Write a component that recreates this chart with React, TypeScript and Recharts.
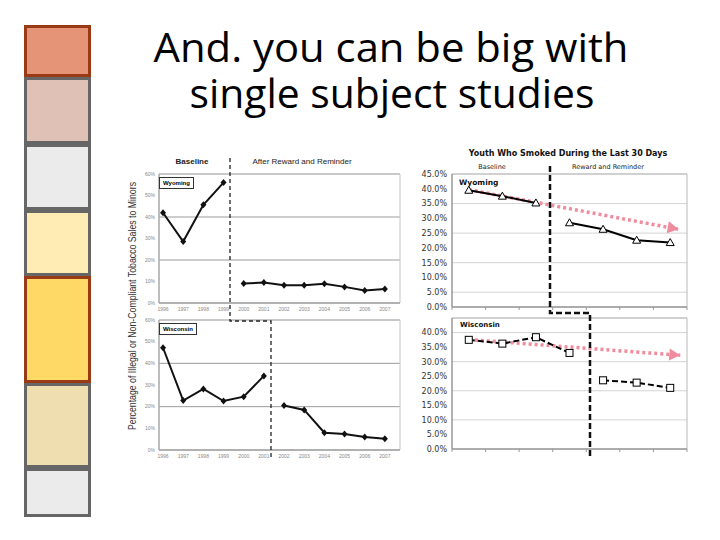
import { LineChart, Line, XAxis, YAxis, CartesianGrid, ReferenceArea } from 'recharts';

// left scan: % of illegal sales, by year
const saleYears = [1996, 1997, 1998, 1999, 2000, 2001, 2002, 2003, 2004, 2005, 2006, 2007];
const wyomingSales = [42, 28.6, 45.7, 56, 9.1, 9.5, 8.3, 8.2, 8.9, 7.5, 5.8, 6.5];
const wisconsinSales = [47.2, 22.8, 28.2, 22.6, 24.6, 34.2, 20.5, 18.5, 8, 7.4, 6, 5.2];
const wyomingSalesBaseline = 4;
const wisconsinSalesBaseline = 6;
const salesTicks = [0, 10, 20, 30, 40, 50, 60];

// right chart: youth who smoked in last 30 days
const surveyRounds = [1, 2, 3, 4, 5, 6, 7];
const wyomingSmoked = [39.5, 37.5, 35.2, 28.5, 26.3, 22.6, 21.8];
const wisconsinSmoked = [37.5, 36.2, 38.4, 33, 23.6, 22.8, 21];
const wyomingSmokedBaseline = 3;
const wisconsinSmokedBaseline = 4;
const wyomingTrend = [{ x: 1, y: 39.7 }, { x: 7.25, y: 26.3 }];
const wisconsinTrend = [{ x: 1, y: 37.6 }, { x: 7.3, y: 32.2 }];
const wyomingSmokedTicks = [0, 5, 10, 15, 20, 25, 30, 35, 40, 45];
const wisconsinSmokedTicks = [0, 5, 10, 15, 20, 25, 30, 35, 40];
const roundEdges = [0.5, 1.5, 2.5, 3.5, 4.5, 5.5, 6.5, 7.5];

const sideBoxes = [
  { y0: 25, y1: 77, fill: '#e59477', edge: '#9a3a14' },
  { y0: 77, y1: 144, fill: '#dfc1b6', edge: '#666' },
  { y0: 144, y1: 210, fill: '#ebebeb', edge: '#666' },
  { y0: 210, y1: 276, fill: '#ffebb4', edge: '#666' },
  { y0: 383, y1: 468, fill: '#eedeb0', edge: '#666' },
  { y0: 468, y1: 517, fill: '#ebebeb', edge: '#666' },
  { y0: 276, y1: 383, fill: '#ffd966', edge: '#9a3a14' },
];

const PINK = '#ef8c9e';

function splitRows(xs: number[], values: number[], baseline: number) {
  return xs.map((x, i) => ({ x, base: i < baseline ? values[i] : null, after: i >= baseline ? values[i] : null }));
}

const diamond = (p: any) => {
  const { cx, cy, index } = p;
  if (cx == null || cy == null || p.value == null) return <g key={index} />;
  return <path key={index} d={`M${cx},${cy - 3.5} L${cx + 3},${cy} L${cx},${cy + 3.5} L${cx - 3},${cy} Z`} fill="#111" />;
};

const triangle = (p: any) => {
  const { cx, cy, index } = p;
  if (cx == null || cy == null || p.value == null) return <g key={index} />;
  return <path key={index} d={`M${cx},${cy - 4} L${cx + 4},${cy + 3} L${cx - 4},${cy + 3} Z`} fill="#fff" stroke="#000" strokeWidth={1} />;
};

const square = (p: any) => {
  const { cx, cy, index } = p;
  if (cx == null || cy == null || p.value == null) return <g key={index} />;
  return <rect key={index} x={cx - 3.5} y={cy - 3.5} width={7} height={7} fill="#fff" stroke="#000" strokeWidth={1} />;
};

const arrowHead = (angle: number) => (p: any) => {
  const { cx, cy, index } = p;
  if (index === 0) return <g key={index} />;
  return (
    <path key={index} d={`M${cx},${cy} L${cx - 11},${cy - 6} L${cx - 11},${cy + 6} Z`} fill={PINK} transform={`rotate(${angle} ${cx} ${cy})`} />
  );
};

function SalesPanel({ values, baseline, top, height, marginTop, xAxisHeight, marginBottom }: any) {
  const rows = splitRows(saleYears, values, baseline);
  return (
    <div style={{ position: 'absolute', left: 130, top }}>
      <LineChart width={280} height={height} data={rows} margin={{ top: marginTop, right: 10, bottom: marginBottom, left: 9 }}>
        <CartesianGrid vertical={false} stroke="#9c9c9c" />
        <ReferenceArea x1={1995.8} x2={2007.75} y1={0} y2={60} fill="none" stroke="#c4c4c4" />
        <XAxis dataKey="x" type="number" domain={[1995.8, 2007.75]} ticks={saleYears} height={xAxisHeight} tickLine={false} tickSize={3} tickMargin={1} axisLine={{ stroke: '#999' }} tick={{ fontSize: 5, fill: '#888', fontFamily: 'Liberation Sans' }} />
        <YAxis domain={[0, 60]} ticks={salesTicks} width={20} tickLine={false} tickSize={2} tickMargin={2} axisLine={{ stroke: '#999' }} tickFormatter={(v) => `${v}%`} tick={{ fontSize: 5, fill: '#888', fontFamily: 'Liberation Sans' }} />
        <Line dataKey="base" stroke="#111" strokeWidth={2} dot={diamond} isAnimationActive={false} />
        <Line dataKey="after" stroke="#111" strokeWidth={2} dot={diamond} isAnimationActive={false} />
      </LineChart>
    </div>
  );
}

function SmokedPanel({ values, baseline, trend, angle, dashed, ticks, top, height, marginTop }: any) {
  const rows = splitRows(surveyRounds, values, baseline);
  const marker = dashed ? square : triangle;
  const dash = dashed ? '6 3' : undefined;
  return (
    <div style={{ position: 'absolute', left: 410, top }}>
      <LineChart width={285} height={height} data={rows} margin={{ top: marginTop, right: 8, bottom: 5, left: 4 }}>
        <CartesianGrid vertical={false} stroke="#d4d4d4" />
        <ReferenceArea x1={0.5} x2={7.5} y1={0} y2={45} fill="none" stroke="#b8b8b8" />
        <XAxis dataKey="x" type="number" domain={[0.5, 7.5]} ticks={roundEdges} height={8} tickSize={3} tickLine={{ stroke: '#999' }} axisLine={{ stroke: '#888' }} tickFormatter={() => ''} />
        <YAxis domain={[0, 45]} ticks={ticks} width={38} tickLine={false} tickSize={0} tickMargin={5} axisLine={{ stroke: '#888' }} tickFormatter={(v) => `${v.toFixed(1)}%`} tick={{ fontSize: 8, fill: '#333', fontFamily: 'DejaVu Sans' }} />
        <Line data={trend} dataKey="y" stroke={PINK} strokeWidth={3.5} strokeDasharray="3 3" dot={arrowHead(angle)} isAnimationActive={false} />
        <Line dataKey="base" stroke="#000" strokeWidth={2} strokeDasharray={dash} dot={marker} isAnimationActive={false} />
        <Line dataKey="after" stroke="#000" strokeWidth={2} strokeDasharray={dash} dot={marker} isAnimationActive={false} />
      </LineChart>
    </div>
  );
}

const abs = (left: number, top: number, extra: any = {}) => ({ position: 'absolute' as const, left, top, whiteSpace: 'nowrap' as const, ...extra });

export default function App() {
  return (
    <div style={{ position: 'absolute', left: 0, top: 0, width: 720, height: 540, background: '#fff', overflow: 'hidden' }}>
      {sideBoxes.map((b, i) => (
        <div key={i} style={{ position: 'absolute', left: 24, top: b.y0, width: 67, height: b.y1 - b.y0, background: b.fill, border: `3px solid ${b.edge}`, boxSizing: 'border-box' }} />
      ))}

      <svg width={720} height={540} style={{ position: 'absolute', left: 0, top: 0 }}>
        <text x={391} y={62} textAnchor="middle" fontFamily="Open Sans" fontSize={40} textLength={475} lengthAdjust="spacingAndGlyphs" fill="#000">And. you can be big with</text>
        <text x={392} y={108} textAnchor="middle" fontFamily="Open Sans" fontSize={40} textLength={405} lengthAdjust="spacingAndGlyphs" fill="#000">single subject studies</text>
        <text transform="translate(136 306) rotate(-90)" textAnchor="middle" fontFamily="'Liberation Sans Narrow', 'Liberation Sans'" fontSize={10} textLength={248} lengthAdjust="spacingAndGlyphs" fill="#333">Percentage of Illegal or Non-Compliant Tobacco Sales to Minors</text>
      </svg>

      <SalesPanel values={wyomingSales} baseline={wyomingSalesBaseline} top={150} height={165} marginTop={24} xAxisHeight={10} marginBottom={2} />
      <SalesPanel values={wisconsinSales} baseline={wisconsinSalesBaseline} top={310} height={155} marginTop={10} xAxisHeight={12} marginBottom={3} />

      <div style={abs(192, 157, { fontFamily: 'Liberation Sans', fontSize: 8, color: '#222', transform: 'translateX(-50%)', fontWeight: 'bold' })}>Baseline</div>
      <div style={abs(302, 157, { fontFamily: 'Liberation Sans', fontSize: 8, color: '#222', transform: 'translateX(-50%)' })}>After Reward and Reminder</div>
      <div style={abs(159, 177, { border: '1px solid #333', background: '#fff', fontFamily: 'Liberation Sans', fontSize: 6, fontWeight: 'bold', padding: '1px 3px', lineHeight: '8px' })}>Wyoming</div>
      <div style={abs(159, 323, { border: '1px solid #333', background: '#fff', fontFamily: 'Liberation Sans', fontSize: 6, fontWeight: 'bold', padding: '1px 3px', lineHeight: '8px' })}>Wisconsin</div>

      <SmokedPanel values={wyomingSmoked} baseline={wyomingSmokedBaseline} trend={wyomingTrend} angle={10.6} ticks={wyomingSmokedTicks} top={150} height={170} marginTop={24} />
      <SmokedPanel values={wisconsinSmoked} baseline={wisconsinSmokedBaseline} trend={wisconsinTrend} angle={4.3} dashed ticks={wisconsinSmokedTicks} top={300} height={162} marginTop={18} />

      <div style={abs(568, 149, { fontFamily: 'DejaVu Sans', fontSize: 8, fontWeight: 'bold', color: '#111', transform: 'translateX(-50%)' })}>Youth Who Smoked During the Last 30 Days</div>
      <div style={abs(492, 163, { fontFamily: 'DejaVu Sans', fontSize: 6.5, color: '#222', transform: 'translateX(-50%)' })}>Baseline</div>
      <div style={abs(608, 163, { fontFamily: 'DejaVu Sans', fontSize: 6.5, color: '#222', transform: 'translateX(-50%)' })}>Reward and Reminder</div>
      <div style={abs(459, 178, { fontFamily: 'DejaVu Sans', fontSize: 7.5, fontWeight: 'bold', color: '#111' })}>Wyoming</div>
      <div style={abs(460, 321, { fontFamily: 'DejaVu Sans', fontSize: 7, fontWeight: 'bold', color: '#111' })}>Wisconsin</div>

      <svg width={720} height={540} style={{ position: 'absolute', left: 0, top: 0, pointerEvents: 'none' }}>
        <path d="M230,158 V321 H271 V457" fill="none" stroke="#222" strokeWidth={1.3} strokeDasharray="4 3" />
        <path d="M550,166 V313 H590 V458" fill="none" stroke="#111" strokeWidth={2.5} strokeDasharray="6 3" />
      </svg>
    </div>
  );
}
